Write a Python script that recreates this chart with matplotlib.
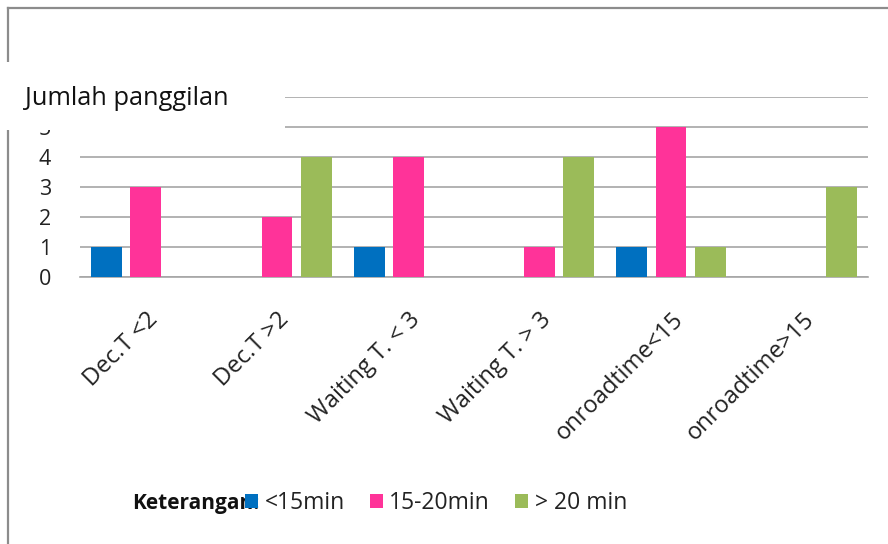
import numpy as np
import matplotlib
matplotlib.use("Agg")
import matplotlib.pyplot as plt
from matplotlib.patches import Rectangle
from matplotlib.lines import Line2D

plt.rcParams['font.family'] = ['Open Sans', 'DejaVu Sans']

# Data
categories = ["Dec.T <2", "Dec.T >2", "Waiting T. < 3", "Waiting T. > 3",
              "onroadtime<15", "onroadtime>15"]
series_names = ["<15min", "15-20min", "> 20 min"]
under_15 = [1, 0, 1, 0, 1, 0]
between_15_20 = [3, 2, 4, 1, 5, 0]
over_20 = [0, 4, 0, 4, 1, 3]
yticks = [0, 1, 2, 3, 4, 5, 6]

colors = ["#0070C0", "#FF3399", "#9BBB59"]
grid_color = "#A6A6A6"

W, H = 888, 544
fig = plt.figure(figsize=(W / 100, H / 100), dpi=100)
ax = fig.add_axes([80 / W, 1 - 277 / H, (868 - 80) / W, (277 - 97) / H])

x = np.arange(len(categories))
slot = 0.297
width = 0.236
bars = []
for i, (vals, name, col) in enumerate(zip([under_15, between_15_20, over_20],
                                          series_names, colors)):
    b = ax.bar(x + (i - 1) * slot, vals, width=width, color=col,
               label=name, zorder=3)
    bars.append(b)

ax.set_xlim(-0.5, len(categories) - 0.5)
ax.set_ylim(0, 6)
ax.set_yticks(yticks)
# the top value label sits behind the title box
ax.set_yticklabels([str(v) if v < max(yticks) else "" for v in yticks])
ax.yaxis.grid(True, color=grid_color, linewidth=1.2, zorder=0)
ax.set_axisbelow(True)
for s in ["top", "right", "left"]:
    ax.spines[s].set_visible(False)
ax.spines["bottom"].set_color(grid_color)
ax.spines["bottom"].set_linewidth(1.2)
ax.tick_params(axis="y", length=0, pad=21, labelsize=15.5, labelcolor="#222222")
ax.tick_params(axis="x", length=0, pad=22, labelcolor="#222222")
ax.set_xticks(x)
ax.set_xticklabels(categories, rotation=45, ha="right",
                   rotation_mode="anchor", fontsize=17)

# Outer frame (left and top edges)
fig.add_artist(Line2D([8 / W, 8 / W], [0, 1 - 8 / H], transform=fig.transFigure,
                      color="#8C8C8C", linewidth=1.6, zorder=1))
fig.add_artist(Line2D([8 / W, 1], [1 - 8 / H, 1 - 8 / H], transform=fig.transFigure,
                      color="#8C8C8C", linewidth=1.6, zorder=1))

# Title box
fig.add_artist(Rectangle((0, 1 - 130 / H), 285 / W, 68 / H,
                         transform=fig.transFigure, facecolor="white",
                         edgecolor="none", zorder=10))
fig.text(25 / W, 1 - 105 / H, "Jumlah panggilan", fontsize=18.3,
         color="#111111", ha="left", va="baseline", zorder=11)

# Legend
fig.text(132 / W, 1 - 509 / H, "Keterangan:", fontsize=15, fontweight="bold",
         color="#111111", ha="left", va="baseline", zorder=4)
leg = fig.legend(handles=bars, labels=series_names, loc="center left",
                 bbox_to_anchor=(245 / W, 1 - 503 / H), ncol=3, frameon=False,
                 fontsize=16.5, handlelength=0.55, handleheight=0.55,
                 handletextpad=0.3, columnspacing=1.1, borderaxespad=0,
                 borderpad=0)
leg.set_zorder(5)
for t in leg.get_texts():
    t.set_color("#222222")

fig.savefig("out.png", dpi=100, facecolor="white")
